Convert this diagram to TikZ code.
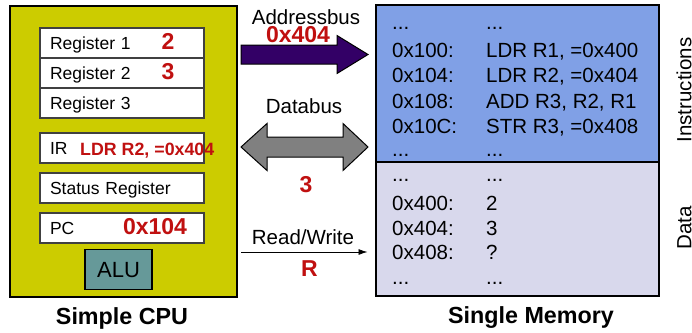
\documentclass[tikz,border=0pt]{standalone}
\usepackage{fontspec}
\setmainfont{Liberation Sans}
\usetikzlibrary{positioning,arrows.meta}
\definecolor{cpuyellow}{RGB}{204,204,0}
\definecolor{alugreen}{RGB}{102,153,153}
\definecolor{busviolet}{RGB}{51,0,102}
\definecolor{busgray}{RGB}{128,128,128}
\definecolor{insblue}{RGB}{128,160,230}
\definecolor{datlilac}{RGB}{216,216,236}
\definecolor{valred}{RGB}{192,16,16}
\newcommand\memdots{...}
\begin{document}
\begin{tikzpicture}[x=1pt,y=-1pt,
  reg/.style={draw=black!75,line width=1.2pt,fill=white,minimum height=30pt,text width=144pt,inner xsep=10pt,inner ysep=0pt,outer sep=0pt,align=left,font=\fontsize{17.5}{20}\selectfont,text height=12.5pt,text depth=0pt},
  val/.style={text=valred,font=\bfseries\fontsize{23}{26}\selectfont,inner sep=0pt,text height=16.5pt,text depth=0pt},
  lbl/.style={font=\fontsize{20.5}{24}\selectfont,inner sep=0pt,text height=14.7pt,text depth=0pt},
  cell/.style={font=\fontsize{20.5}{24}\selectfont,inner sep=0pt,anchor=base west},
  title/.style={font=\bfseries\fontsize{23.3}{26}\selectfont,inner sep=0pt,text height=16.7pt,text depth=0pt},
  mem/.style={draw,line width=1.5pt,minimum width=283pt,inner sep=0pt,outer sep=0pt}]
  \useasboundingbox (0,0) rectangle (692,332);
  % CPU
  \node[draw,line width=1.5pt,fill=cpuyellow,minimum width=227pt,minimum height=291pt] (cpu) at (123.5,151.5) {};
  \node[reg] (r1) at (122,43) {Register 1};
  \node[reg,below=0pt of r1] (r2) {Register 2};
  \node[reg,below=0pt of r2] (r3) {Register 3};
  \node[reg,below=15pt of r3] (ir) {IR};
  \node[reg,below=10pt of ir] (sr) {Status Register};
  \node[reg,below=10pt of sr] (pc) {PC};
  \node[draw,line width=1.2pt,fill=alugreen,minimum width=67pt,minimum height=40pt,inner sep=0pt,font=\fontsize{22}{26}\selectfont,text height=15.8pt,text depth=0pt] (alu) at (118.5,269.5) {ALU};
  \node[val] (v1) at (168,41) {2};
  \node[val] (v2) at (168,71.5) {3};
  \node[val,anchor=west,font=\bfseries\fontsize{17.8}{20}\selectfont,text height=12.7pt] (vir) at (80,149) {LDR R2, =0x404};
  \node[val] (vpc) at (155,226.5) {0x104};
  \node[title] (tcpu) at (122,316.5) {Simple CPU};
  % memory
  \node[mem,fill=insblue,minimum height=157pt] (ins) at (517.5,83.5) {};
  \node[mem,fill=datlilac,minimum height=134pt,below=0pt of ins] (dat) {};
  \foreach \y/\a/\b [count=\i] in {29.5/\memdots/\memdots, 57.3/0x100:/{LDR R1, =0x400}, 82.6/0x104:/{LDR R2, =0x404},
      108/0x108:/{ADD R3, R2, R1}, 133.3/0x10C:/{STR R3, =0x408}, 156.5/\memdots/\memdots} {
    \node[cell] (ia\i) at (392,\y) {\a};
    \node[cell] (ib\i) at (486,\y) {\b};
  }
  \foreach \y/\a/\b [count=\i] in {181.5/\memdots/\memdots, 210.8/0x400:/2, 235.8/0x404:/3, 259.3/0x408:/?, 284.8/\memdots/\memdots} {
    \node[cell] (da\i) at (392,\y) {\a};
    \node[cell] (db\i) at (486,\y) {\b};
  }
  \node[lbl,rotate=90] (tins) at (684,90) {Instructions};
  \node[lbl,rotate=90] (tdat) at (684,228) {Data};
  \node[title] (tmem) at (531,315) {Single Memory};
  % buses
  \coordinate (abs) at (241,54.5);
  \filldraw[fill=busviolet,draw=black,line width=1pt] (abs) -- ++(0,-9.5) -- ++(96,0) -- ++(0,-9.5) -- ++(31,19)
    -- ++(-31,19) -- ++(0,-9.5) -- ++(-96,0) -- cycle;
  \coordinate (dbs) at (241,147);
  \filldraw[fill=busgray,draw=black,line width=1pt] (dbs) -- ++(26,-23.5) -- ++(0,13.5) -- ++(76,0) -- ++(0,-13.5)
    -- ++(25,23.5) -- ++(-25,23.5) -- ++(0,-13.5) -- ++(-76,0) -- ++(0,13.5) -- cycle;
  \coordinate (rwy) at (0,252);
  \draw[-{Latex[length=9pt,width=6pt]},line width=0.8pt,shorten <=3.5pt,shorten >=8.5pt] (cpu.east |- rwy) -- (ins.west |- rwy);
  \node[lbl] (abl) at (306,17) {Addressbus};
  \node[val] (abv) at (298,34) {0x404};
  \node[lbl] (dbl) at (304,106) {Databus};
  \node[val] (dbv) at (306,184.5) {3};
  \node[lbl] (rwl) at (303,237) {Read/Write};
  \node[val] (rwv) at (309.5,268.5) {R};
\end{tikzpicture}
\end{document}
